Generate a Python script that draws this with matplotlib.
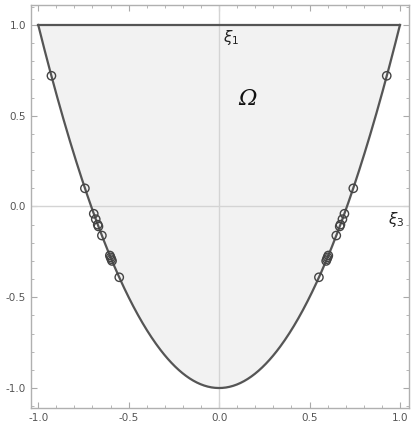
import numpy as np
import matplotlib
matplotlib.use("Agg")
import matplotlib.pyplot as plt
from matplotlib.ticker import MultipleLocator, FormatStrFormatter

# Sample points on the boundary curve
left_x = [-0.927, -0.742, -0.693, -0.682, -0.671, -0.667, -0.648, -0.604, -0.600, -0.596, -0.592, -0.552]
left_y = [0.72, 0.10, -0.04, -0.07, -0.10, -0.11, -0.16, -0.27, -0.28, -0.29, -0.30, -0.39]
right_x = [0.927, 0.742, 0.693, 0.682, 0.671, 0.667, 0.648, 0.604, 0.600, 0.596, 0.592, 0.552]
right_y = [0.72, 0.10, -0.04, -0.07, -0.10, -0.11, -0.16, -0.27, -0.28, -0.29, -0.30, -0.39]

fig = plt.figure(figsize=(4.15, 4.3), dpi=100)
ax = fig.add_axes([0.0747, 0.0512, 0.9108, 0.9372])

xs = np.linspace(-1, 1, 400)
ys = 2 * xs**2 - 1
ax.fill_between(xs, ys, 1, color="#f2f2f2", zorder=1)
ax.axhline(0, color="#d4d4d4", lw=1, zorder=2)
ax.axvline(0, color="#d4d4d4", lw=1, zorder=2)
ax.plot(xs, ys, color="#555555", lw=1.6, zorder=3)
ax.plot([-1, 1], [1, 1], color="#555555", lw=1.6, zorder=3)

ax.scatter(left_x + right_x, left_y + right_y, s=36, facecolors="none",
           edgecolors="#444444", linewidths=1.0, zorder=4)

ax.text(0.02, 0.985, r"$\xi_1$", fontsize=11, ha="left", va="top", color="#222222", zorder=5)
ax.text(0.935, -0.02, r"$\xi_3$", fontsize=11, ha="left", va="top", color="#222222", zorder=5)
ax.text(0.155, 0.59, "Ω", fontsize=16, ha="center", va="center",
        color="#111111", family="DejaVu Serif", style="italic", zorder=5)

ax.set_xlim(-1.04, 1.05)
ax.set_ylim(-1.11, 1.11)
ax.xaxis.set_major_locator(MultipleLocator(0.5))
ax.xaxis.set_minor_locator(MultipleLocator(0.1))
ax.yaxis.set_major_locator(MultipleLocator(0.5))
ax.yaxis.set_minor_locator(MultipleLocator(0.1))
ax.xaxis.set_major_formatter(FormatStrFormatter("%.1f"))
ax.yaxis.set_major_formatter(FormatStrFormatter("%.1f"))
ax.tick_params(which="both", direction="in", top=True, right=True, color="#aaaaaa",
               labelcolor="#555555", labelsize=7.5)
ax.tick_params(which="major", length=4, width=0.8)
ax.tick_params(which="minor", length=2.2, width=0.6)
for s in ax.spines.values():
    s.set_color("#b0b0b0")
    s.set_linewidth(1.0)

fig.savefig("out.png", dpi=100)
